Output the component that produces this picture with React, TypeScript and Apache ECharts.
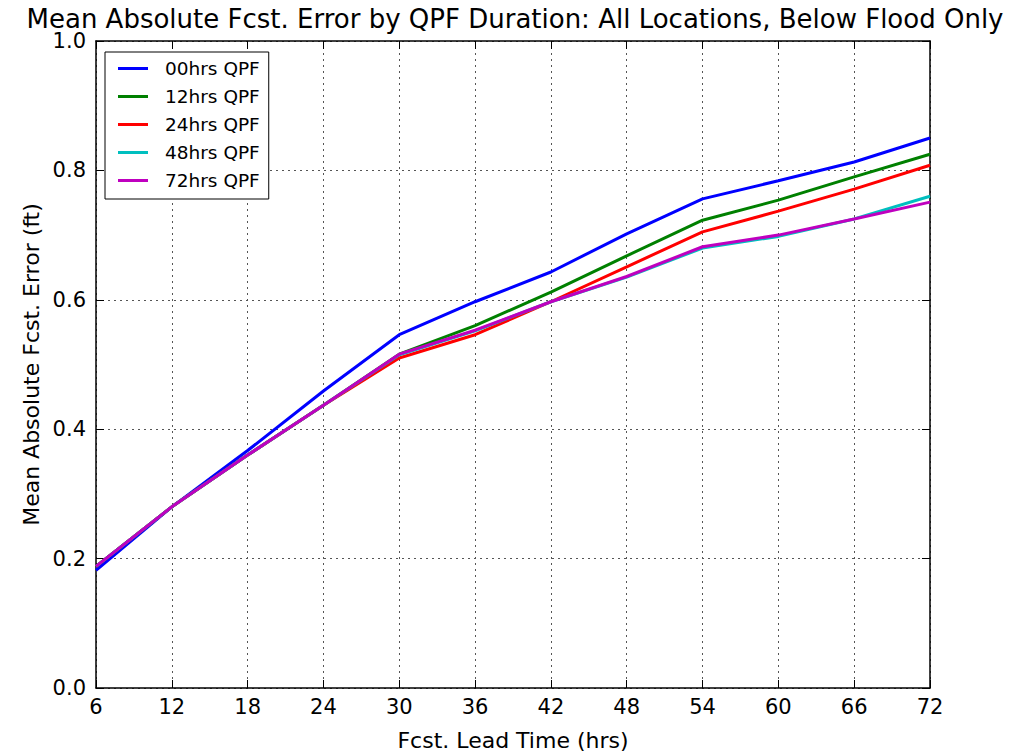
import React, { useEffect, useRef } from "react";
import * as echarts from "echarts";

const leadTimes = [6, 12, 18, 24, 30, 36, 42, 48, 54, 60, 66, 72];
const seriesNames = ["00hrs QPF", "12hrs QPF", "24hrs QPF", "48hrs QPF", "72hrs QPF"];
const qpf00 = [0.182, 0.28, 0.367, 0.459, 0.546, 0.597, 0.643, 0.702, 0.756, 0.784, 0.813, 0.85];
const qpf12 = [0.188, 0.28, 0.36, 0.437, 0.516, 0.56, 0.612, 0.668, 0.723, 0.754, 0.79, 0.825];
const qpf24 = [0.188, 0.28, 0.36, 0.437, 0.51, 0.546, 0.597, 0.651, 0.705, 0.737, 0.771, 0.808];
const qpf48 = [0.188, 0.28, 0.36, 0.437, 0.515, 0.552, 0.597, 0.635, 0.68, 0.698, 0.725, 0.76];
const qpf72 = [0.188, 0.28, 0.36, 0.437, 0.516, 0.553, 0.597, 0.636, 0.682, 0.7, 0.725, 0.751];
const colors = ["#0000ff", "#008000", "#ff0000", "#00bfbf", "#bf00bf"];
const yTicks = [0, 0.2, 0.4, 0.6, 0.8, 1.0];

const FONT = "DejaVu Sans";

export default function App() {
  const ref = useRef<HTMLDivElement>(null);
  useEffect(() => {
    if (!ref.current) return;
    const chart = echarts.init(ref.current, null, { renderer: "svg" });
    const all = [qpf00, qpf12, qpf24, qpf48, qpf72];
    const L = 96, R = 930, T = 41, B = 688;
    const gridLine = { show: true, lineStyle: { color: "#555", type: [2, 4], width: 1 } };
    const option: any = {
      animation: false,
      backgroundColor: "#ffffff",
      textStyle: { fontFamily: FONT },
      grid: { left: L, right: 1026 - R, top: T, bottom: 754 - B, containLabel: false },
      legend: {
        show: true,
        orient: "vertical",
        left: 105,
        top: 52,
        data: seriesNames,
        icon: "rect",
        itemWidth: 30,
        itemHeight: 3,
        itemGap: 7,
        padding: [6, 9, 8, 13],
        borderColor: "#000",
        borderWidth: 1,
        borderRadius: 0,
        backgroundColor: "#fff",
        textStyle: { fontFamily: FONT, fontSize: 18.5, color: "#000", lineHeight: 21, padding: [0, 0, 0, 12] },
      },
      xAxis: [
        {
          type: "value",
          min: 6,
          max: 72,
          interval: 6,
          axisLine: { show: true, onZero: false, lineStyle: { color: "#000", width: 1.5 } },
          axisTick: { show: true, inside: true, length: 8, lineStyle: { color: "#000" } },
          axisLabel: { color: "#000", fontSize: 21, fontFamily: FONT, margin: 8 },
          splitLine: gridLine,
        },
        {
          type: "value",
          position: "top",
          min: 6,
          max: 72,
          interval: 6,
          axisLine: { show: true, onZero: false, lineStyle: { color: "#000", width: 1.5 } },
          axisTick: { show: true, inside: true, length: 8, lineStyle: { color: "#000" } },
          axisLabel: { show: false },
          splitLine: { show: false },
        },
      ],
      yAxis: [
        {
          type: "value",
          min: 0,
          max: 1,
          interval: 0.2,
          axisLine: { show: true, onZero: false, lineStyle: { color: "#000", width: 1.5 } },
          axisTick: { show: true, inside: true, length: 8, lineStyle: { color: "#000" } },
          axisLabel: {
            color: "#000",
            fontSize: 21,
            fontFamily: FONT,
            margin: 10,
            formatter: (v: number) => {
              const t = yTicks.find((y) => Math.abs(y - v) < 1e-9);
              return (t !== undefined ? t : v).toFixed(1);
            },
          },
          splitLine: gridLine,
        },
        {
          type: "value",
          position: "right",
          min: 0,
          max: 1,
          interval: 0.2,
          axisLine: { show: true, onZero: false, lineStyle: { color: "#000", width: 1.5 } },
          axisTick: { show: true, inside: true, length: 8, lineStyle: { color: "#000" } },
          axisLabel: { show: false },
          splitLine: { show: false },
        },
      ],
      series: seriesNames.map((name, i) => ({
        name,
        type: "line",
        xAxisIndex: 0,
        yAxisIndex: 0,
        data: leadTimes.map((x, j) => [x, all[i][j]]),
        showSymbol: false,
        symbol: "none",
        color: colors[i],
        lineStyle: { color: colors[i], width: 3 },
        z: 2 + i,
      })),
      graphic: [
        {
          type: "text",
          x: 515,
          y: 19,
          style: {
            text: "Mean Absolute Fcst. Error by QPF Duration: All Locations, Below Flood Only",
            font: `26px "${FONT}"`,
            fill: "#000",
            textAlign: "center",
            textVerticalAlign: "middle",
          },
        },
        {
          type: "text",
          x: (L + R) / 2,
          y: 740,
          style: {
            text: "Fcst. Lead Time (hrs)",
            font: `22px "${FONT}"`,
            fill: "#000",
            textAlign: "center",
            textVerticalAlign: "middle",
          },
        },
        {
          type: "text",
          x: 31,
          y: (T + B) / 2,
          rotation: Math.PI / 2,
          style: {
            text: "Mean Absolute Fcst. Error (ft)",
            font: `22px "${FONT}"`,
            fill: "#000",
            textAlign: "center",
            textVerticalAlign: "middle",
          },
        },
      ],
    };
    chart.setOption(option);
    return () => chart.dispose();
  }, []);
  return (
    <div
      ref={ref}
      style={{ position: "fixed", left: 0, top: 0, width: 1026, height: 754, background: "#fff" }}
    />
  );
}
